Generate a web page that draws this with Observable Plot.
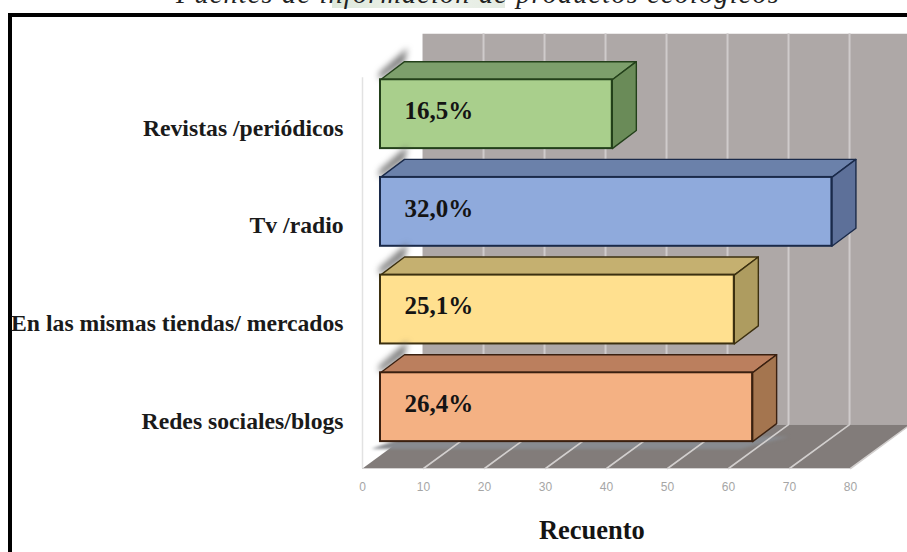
<!DOCTYPE html>
<html lang="es">
<head>
<meta charset="utf-8">
<script src="https://cdn.jsdelivr.net/npm/d3@7"></script>
<script src="https://cdn.jsdelivr.net/npm/@observablehq/plot@0.6"></script>
<style>
  html, body { margin: 0; padding: 0; width: 907px; height: 552px; overflow: hidden; background: #fff; }
  #patch { position: absolute; left: 332px; top: 0; width: 173px; height: 8px; background: linear-gradient(90deg, #dfe9dc, #eef3ec 60%, #e4ebe2); }
  #heading { position: absolute; left: 0; width: 956px; top: -20px; text-align: center; font: italic 28px/28px "Liberation Serif", serif; letter-spacing: 1.3px; color: #222; white-space: nowrap; }
  #border { position: absolute; left: 8px; top: 13px; width: 920px; height: 560px; border: 4px solid #000; box-sizing: border-box; }
  #chart { position: absolute; left: 0; top: 0; }
</style>
</head>
<body>
<div id="patch"></div>
<div id="heading">Fuentes de información de productos ecológicos</div>
<div id="border"></div>
<div id="chart"></div>
<script>
// Survey counts, listed from the lowest bar to the highest
const categories = ["Redes sociales/blogs", "En las mismas tiendas/ mercados", "Tv /radio", "Revistas /periódicos"];
const counts = [61, 58, 74, 38];
const xTicks = [0, 10, 20, 30, 40, 50, 60, 70, 80];
const axisLabel = "Recuento";

// Face colours per bar: front, top, side, outline
const frontColors = ["#f4b183", "#ffe08f", "#8faadc", "#a9cf8c"];
const topColors = ["#bb7f5e", "#c5b070", "#6b81aa", "#7d9f6c"];
const sideColors = ["#a4754f", "#ae9c60", "#5d7099", "#6a8b58"];
const edgeColors = ["#3a2010", "#3c3010", "#1a2a4a", "#23401a"];

// Depth planes of the oblique projection, in x-units and category slots
const barFront = {x: 2.95, y: 0.14};
const barBack = {x: 6.89, y: 0.325};
const wall = {x: 9.84, y: 0.45};
const barBottom = 0.135;
const barTop = 0.84;
const slots = categories.length;
const maxX = xTicks[xTicks.length - 1];
const total = d3.sum(counts);

const at = (plane, x, y) => ({x: x + plane.x, y: y + plane.y});
const origin = {x: 0, y: 0};

// A filled polygon in data space
const poly = (points, options) =>
  Plot.line(points, {x: "x", y: "y", curve: "linear-closed", strokeLinejoin: "round", ...options});

const marks = [];

// Back wall and floor
marks.push(poly([at(wall, 0, 0), at(wall, maxX, 0), at(wall, maxX, slots), at(wall, 0, slots)], {fill: "#aea8a7", stroke: "none"}));
marks.push(Plot.ruleX(xTicks.slice(1), {x: d => d + wall.x, y1: wall.y, y2: slots + wall.y, stroke: "#cfcbcb", strokeWidth: 2}));
marks.push(poly([at(origin, 0, 0), at(origin, maxX, 0), at(wall, maxX, 0), at(wall, 0, 0)], {fill: "#827c7a", stroke: "none"}));

// Soft shadow on the floor under the lowest bar
marks.push(poly([
  at(barFront, -1.5, 0.06), at(barFront, counts[0] - 2, 0.06),
  at(barBack, counts[0] + 2, 0), at(barBack, 0, 0)
], {fill: "#888b90", stroke: "none", imageFilter: "blur(1.5px)"}));

for (const t of xTicks.slice(1)) {
  marks.push(Plot.line([at(origin, t, 0), at(wall, t, 0)], {x: "x", y: "y", stroke: "#d2cfce", strokeWidth: 1.6}));
}
marks.push(Plot.ruleY([0], {x1: 0, x2: maxX, stroke: "#d4d2d2", strokeWidth: 1.2}));
marks.push(Plot.ruleX([0], {y1: 0, y2: slots, stroke: "#e2e2e2", strokeWidth: 1.5}));

// Bars, drawn back to front
for (let i = slots - 1; i >= 0; --i) {
  const v = counts[i];
  const y0 = i + barBottom;
  const y1 = i + barTop;
  const edge = edgeColors[i];

  // Dark halo along the rear left edge
  marks.push(poly([
    at(barFront, -0.2, y1), at(barBack, 0, y1),
    at(barBack, 0.5, y1 + 0.14), at(barFront, -0.2, y1 + 0.07)
  ], {fill: "#555", fillOpacity: 0.8, stroke: "none", imageFilter: "blur(3px)"}));

  marks.push(poly([at(barFront, 0, y1), at(barFront, v, y1), at(barBack, v, y1), at(barBack, 0, y1)],
    {fill: topColors[i], stroke: edge, strokeWidth: 1.4}));
  marks.push(poly([at(barFront, v, y0), at(barBack, v, y0), at(barBack, v, y1), at(barFront, v, y1)],
    {fill: sideColors[i], stroke: edge, strokeWidth: 1.4}));
  marks.push(Plot.rect([i], {
    x1: () => barFront.x,
    x2: () => barFront.x + v,
    y1: () => y0 + barFront.y,
    y2: () => y1 + barFront.y,
    fill: frontColors[i],
    stroke: edge,
    strokeWidth: 2
  }));

  // Share of all answers, printed on the bar
  marks.push(Plot.text([v], {
    x: () => barFront.x + 3.93,
    y: () => i + barFront.y + 0.52,
    text: d => (d / total * 100).toFixed(1).replace(".", ",") + "%",
    textAnchor: "start",
    fontFamily: "Liberation Serif",
    fontWeight: "bold",
    fontSize: 25,
    fill: "#141414"
  }));
}

// Category labels
marks.push(Plot.text(categories, {
  x: () => -3.1,
  y: (d, i) => i + 0.485,
  text: d => d,
  textAnchor: "end",
  fontFamily: "Liberation Serif",
  fontWeight: "bold",
  fontSize: 23.7,
  fill: "#1a1a1a"
}));

// Value axis
marks.push(Plot.text(xTicks, {
  x: d => d,
  y: () => -0.195,
  text: d => String(d),
  fontFamily: "Liberation Sans",
  fontSize: 12,
  fill: "#a6a6a6"
}));
marks.push(Plot.text([axisLabel], {
  x: () => 37.6,
  y: () => -0.635,
  text: d => d,
  fontFamily: "Liberation Serif",
  fontWeight: "bold",
  fontSize: 26.5,
  fill: "#141414"
}));

const chart = Plot.plot({
  width: 907,
  height: 552,
  margin: 0,
  style: {background: "transparent"},
  x: {domain: [0, maxX], range: [362, 850], axis: null},
  y: {domain: [0, slots], range: [468, 77.3], axis: null},
  marks
});
document.getElementById("chart").append(chart);
</script>
</body>
</html>
